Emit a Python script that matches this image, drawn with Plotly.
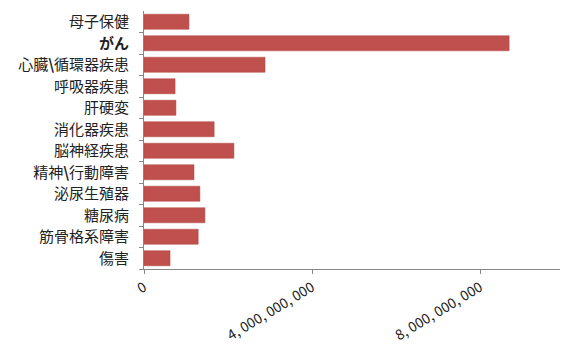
import plotly.graph_objects as go

categories = ["母子保健", "がん", "心臓\\循環器疾患", "呼吸器疾患", "肝硬変", "消化器疾患",
              "脳神経疾患", "精神\\行動障害", "泌尿生殖器", "糖尿病", "筋骨格系障害", "傷害"]
labels = ["母子保健", "<b>がん</b>", "心臓<b>\\</b>循環器疾患", "呼吸器疾患", "肝硬変", "消化器疾患",
          "脳神経疾患", "精神<b>\\</b>行動障害", "泌尿生殖器", "糖尿病", "筋骨格系障害", "傷害"]
values = [1.07e9, 8.69e9, 2.88e9, 0.74e9, 0.76e9, 1.67e9,
          2.14e9, 1.19e9, 1.33e9, 1.45e9, 1.29e9, 0.62e9]
xticks = [0, 4e9, 8e9]
xticklabels = ["0", "4,\u00a0000,\u00a0000,\u00a0000", "8,\u00a0000,\u00a0000,\u00a0000"]

fig = go.Figure(go.Bar(
    x=values, y=categories, orientation="h",
    marker=dict(color="#c0504d", line=dict(color="#b04643", width=0.5)),
))
fig.update_layout(
    width=562, height=344,
    margin=dict(l=144, r=2, t=11, b=75),
    paper_bgcolor="white", plot_bgcolor="white",
    bargap=0.3, showlegend=False,
    font=dict(family="Noto Sans CJK JP", size=15, color="#222222"),
)
fig.update_yaxes(
    categoryorder="array", categoryarray=categories[::-1],
    tickvals=categories, ticktext=labels,
    showline=True, linecolor="#868686", linewidth=1,
    ticks="outside", tickson="boundaries", ticklen=4, tickcolor="#868686",
    showgrid=False, ticklabelstandoff=11, automargin=False,
)
fig.update_xaxes(
    range=[0, 9.9e9], tickvals=xticks, ticktext=xticklabels, tickangle=-31,
    showline=True, linecolor="#868686", linewidth=1,
    ticks="outside", ticklen=4, tickcolor="#868686",
    showgrid=False, zeroline=False, ticklabelstandoff=0,
    tickfont=dict(size=14), automargin=False,
)
fig.write_html("out.html")
